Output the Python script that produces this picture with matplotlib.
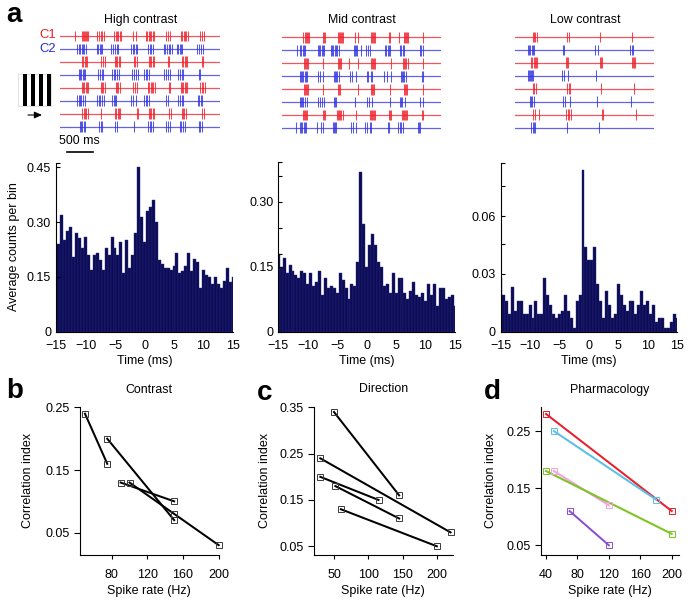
import matplotlib
matplotlib.use("Agg")
import matplotlib.pyplot as plt
from matplotlib.patches import Rectangle
from matplotlib.ticker import FuncFormatter

plt.rcParams["font.family"] = ["Liberation Sans", "DejaVu Sans"]
plt.rcParams["axes.linewidth"] = 0.8
plt.rcParams["axes.unicode_minus"] = True

W, H = 691, 607
DPI = 100

# spike times, raster time units (77 units = 500 ms)
high_rows = [
    [226, 245, 248, 251, 254, 257, 260, 263, 292, 297, 303, 307, 312, 343, 347, 351, 355, 359, 363, 398, 408, 437, 442, 446, 450, 454, 458, 462, 499, 505, 511, 543, 547, 551, 555, 559, 563, 600, 606, 612],
    [232, 237, 241, 245, 249, 253, 257, 290, 295, 299, 303, 307, 334, 339, 345, 350, 355, 394, 398, 403, 407, 411, 445, 449, 453, 458, 491, 496, 501, 506, 511, 516, 530, 535, 539, 543, 547, 592, 598, 604, 610],
    [246, 250, 254, 258, 262, 303, 309, 316, 344, 348, 352, 356, 360, 401, 405, 410, 446, 450, 454, 458, 462, 505, 508, 546, 550, 554, 558, 562, 607, 610],
    [236, 240, 244, 248, 252, 256, 295, 300, 305, 310, 336, 341, 346, 351, 356, 397, 402, 407, 413, 431, 437, 442, 447, 491, 497, 503, 510, 535, 540, 545, 550, 596, 600],
    [245, 249, 253, 257, 261, 265, 302, 306, 310, 315, 347, 351, 355, 359, 400, 405, 410, 444, 448, 452, 456, 460, 464, 507, 510, 542, 546, 550, 554, 558, 562, 600, 605, 610, 615],
    [232, 236, 240, 244, 248, 254, 291, 296, 301, 306, 312, 337, 341, 345, 349, 393, 398, 408, 432, 437, 442, 447, 497, 503, 535, 540, 545, 550, 593, 598, 603, 607],
    [247, 251, 255, 259, 263, 304, 345, 349, 353, 357, 361, 410, 414, 446, 450, 454, 458, 462, 508, 512, 545, 549, 553, 557, 607, 611],
    [239, 243, 247, 251, 255, 298, 302, 306, 345, 350, 402, 444, 449, 454, 459, 497, 503, 509, 539, 544, 549, 554, 596, 601, 607],
]
mid_rows = [
    [188, 194, 197, 200, 203, 206, 248, 251, 254, 293, 296, 299, 302, 305, 308, 344, 353, 392, 395, 398, 401, 404, 447, 451, 476, 492, 495, 498, 501, 505, 548],
    [172, 180, 184, 188, 192, 196, 233, 237, 241, 245, 249, 253, 272, 276, 280, 284, 288, 292, 296, 341, 344, 347, 351, 362, 379, 384, 389, 435, 439, 443, 447, 451, 480, 484, 488, 492, 540, 544, 548],
    [192, 195, 198, 201, 204, 250, 295, 298, 301, 304, 328, 355, 394, 397, 400, 403, 406, 452, 490, 493, 496, 499, 503, 548],
    [181, 184, 187, 190, 194, 198, 202, 233, 240, 249, 281, 284, 287, 290, 297, 331, 337, 347, 381, 385, 392, 397, 433, 441, 453, 482, 485, 488, 492, 499, 546, 549],
    [192, 195, 198, 201, 204, 250, 294, 297, 300, 353, 392, 395, 398, 401, 451, 491, 494, 497, 500, 550],
    [181, 184, 187, 190, 196, 202, 235, 241, 246, 251, 282, 285, 288, 346, 382, 388, 395, 449, 481, 484, 487, 494, 541, 549],
    [189, 192, 195, 198, 201, 248, 251, 254, 290, 293, 296, 299, 304, 309, 349, 389, 392, 395, 398, 401, 404, 447, 450, 454, 487, 490, 493, 496, 499, 502, 546, 549],
    [167, 179, 183, 187, 191, 195, 199, 232, 243, 248, 278, 281, 284, 287, 332, 339, 347, 376, 380, 389, 394, 444, 448, 474, 479, 484, 490, 534, 537, 540],
]
low_rows = [
    [218, 222, 226, 230, 322, 326, 419, 517],
    [203, 207, 211, 215, 219, 223, 308, 312, 404, 414, 511, 515, 519],
    [212, 216, 222, 225, 228, 231, 319, 322, 325, 419, 423, 427, 515, 519, 523, 526],
    [203, 206, 209, 212, 215, 218, 306, 311, 325, 408],
    [218, 222, 228, 322, 326, 330, 424, 523],
    [209, 213, 217, 221, 308, 315, 331, 411, 512],
    [220, 224, 236, 319, 323, 327, 334, 425, 428, 527],
    [214, 218, 222, 226, 320, 418],
]

# cross-correlograms, 61 bins of 0.5 ms
lags = [-15 + 0.5 * i for i in range(61)]
high_counts = [.20, .24, .32, .25, .275, .285, .205, .27, .255, .23, .26, .21, .17, .21, .215, .195, .17, .23, .21, .26,
               .23, .21, .245, .16, .25, .175, .21, .27, .45, .315, .245, .33, .34, .36, .30, .195, .185, .175, .175, .17,
               .18, .215, .16, .165, .18, .215, .165, .20, .19, .12, .17, .155, .15, .13, .15, .13, .12, .14, .175, .135, .15]
mid_counts = [.18, .15, .17, .135, .155, .14, .13, .125, .14, .135, .11, .135, .105, .115, .14, .085, .125, .10, .105, .10,
              .09, .135, .12, .10, .075, .11, .105, .16, .37, .25, .15, .20, .225, .20, .16, .15, .105, .11, .09, .135,
              .09, .125, .125, .09, .075, .095, .115, .085, .08, .09, .07, .11, .085, .11, .06, .10, .10, .075, .08, .085, .06]
low_counts = [.028, .019, .016, .009, .023, .011, .016, .016, .009, .009, .014, .007, .016, .009, .009, .028, .019, .014, .009, .007,
              .009, .011, .019, .011, .007, .002, .016, .019, .084, .044, .037, .037, .044, .025, .016, .007, .021, .014, .007, .009,
              .025, .019, .014, .011, .016, .016, .009, .014, .021, .014, .016, .009, .014, .005, .007, .007, .002, .002, .005, .009, .007]
lag_ticks = [-15, -10, -5, 0, 5, 10, 15]

# correlation index vs spike rate, one list per pair
contrast_x = [[50, 75], [75, 150], [90, 150], [100, 150, 200]]
contrast_y = [[.24, .16], [.20, .07], [.13, .10], [.13, .08, .03]]
direction_x = [[50, 145], [30, 220], [30, 115], [52, 145], [60, 200]]
direction_y = [[.34, .16], [.24, .08], [.20, .15], [.18, .11], [.13, .05]]
pharma_x = [[50, 120], [40, 200], [50, 180], [40, 200], [70, 120]]
pharma_y = [[.18, .12], [.28, .11], [.25, .13], [.18, .07], [.11, .05]]
pharma_colors = ["#f3a0e6", "#e81f2d", "#5cbfe6", "#7cc41e", "#8a50d2"]


def px_axes(fig, left, top, right, bottom):
    return fig.add_axes([left / W, 1 - bottom / H, (right - left) / W, (bottom - top) / H])


def fmt_tick(x, pos):
    if x == 0:
        return "0"
    return "{:.2f}".format(x)


fig = plt.figure(figsize=(W / DPI, H / DPI), dpi=DPI)

# overlay in pixel coordinates for labels
ov = fig.add_axes([0, 0, 1, 1], zorder=5)
ov.set_xlim(0, W)
ov.set_ylim(H, 0)
ov.axis("off")


def label(x, y, s, size=8.9, **kw):
    ov.text(x, y, s, fontsize=size, ha=kw.pop("ha", "center"), va="center", **kw)


# rasters
raster_boxes = [(high_rows, 60, 220, 180, 660, 24.4), (mid_rows, 282.3, 441, 127, 603, 25.7), (low_rows, 515, 654, 165, 582, 25.4)]
for rows, left, right, t0, t1, top in raster_boxes:
    ax = px_axes(fig, left, top, right, top + 110)
    ax.set_xlim(t0, t1)
    ax.set_ylim(7.6, -0.9)
    ax.axis("off")
    for i, spikes in enumerate(rows):
        c = "#f01c28" if i % 2 == 0 else "#2f2fe0"
        ax.plot([t0, t1], [i, i], color=c, lw=0.9, alpha=0.75)
        ax.vlines(spikes, i - 0.42, i + 0.42, color=c, lw=0.75, alpha=0.8)

label(141, 20, "High contrast")
label(362, 20, "Mid contrast")
label(585, 20, "Low contrast")
label(48, 34.5, "C1", size=9.4, color="#e8202a")
label(48, 49, "C2", size=9.4, color="#2b2bd8")

# grating icon and arrow
ov.add_patch(Rectangle((18.5, 74), 32.5, 32, fc="white", ec="#cccccc", lw=0.4))
for bx in [22.7, 30.7, 38.7, 46.7]:
    ov.add_patch(Rectangle((bx, 74), 4, 32, fc="black", ec="none"))
ov.annotate("", xy=(42, 115), xytext=(28, 115),
            arrowprops=dict(arrowstyle="-|>,head_width=0.2,head_length=0.45", color="black", lw=0.8,
                            shrinkA=0, shrinkB=0))
label(79, 141, "500 ms")
ov.plot([66.7, 92.7], [151.7, 151.7], color="black", lw=1.2)

# histograms
hist_boxes = [
    (high_counts, 56, 233, 163.5, 0.46, [0, .15, .30, .45], [.46]),
    (mid_counts, 278.3, 455, 162.5, 0.391, [0, .15, .30], [.18, .24, .36, .391]),
    (low_counts, 500.7, 677, 162.7, 0.0877, [0, .03, .06], [.0453, .0756, .0877]),
]
for counts, left, right, top, ymax, yt, ym in hist_boxes:
    ax = px_axes(fig, left, top, right, 331.7)
    ax.bar(lags, counts, width=0.5, color="#0b0b58", edgecolor="#2c2c78", lw=0.3)
    ax.set_xlim(-15, 15)
    ax.set_ylim(0, ymax)
    ax.set_xticks(lag_ticks)
    ax.set_yticks(yt)
    ax.set_yticks(ym, minor=True)
    ax.yaxis.set_major_formatter(FuncFormatter(fmt_tick))
    ax.tick_params(axis="x", length=0, pad=6, labelsize=9)
    ax.tick_params(axis="y", which="major", direction="in", length=3, width=0.8, pad=3.5, labelsize=9)
    ax.tick_params(axis="y", which="minor", direction="in", length=3, width=0.8)
    ax.spines["top"].set_visible(False)
    ax.spines["right"].set_visible(False)
    ov.text((left + right) / 2, 361, "Time (ms)", fontsize=9, ha="center", va="center")

ov.text(14, 247, "Average counts per bin", fontsize=9, rotation=90, ha="center", va="center")


def scatter_panel(left, right, xlim, ylim, xt, yt, xs, ys, colors, title_x, ylab_x):
    ax = px_axes(fig, left, 407.4, right, 555.3)
    for i in range(len(xs)):
        ax.plot(xs[i], ys[i], color=colors[i], lw=1.45, zorder=2, clip_on=False)
        ax.plot(xs[i], ys[i], ls="none", marker="s", ms=4.3, mfc="none",
                mec=colors[i] if len(set(colors)) > 1 else "#3a3a3a", mew=0.7, zorder=3, clip_on=False)
    ax.set_xlim(*xlim)
    ax.set_ylim(*ylim)
    ax.set_xticks(xt)
    ax.set_yticks(yt)
    ax.yaxis.set_major_formatter(FuncFormatter(fmt_tick))
    ax.tick_params(axis="x", length=3, width=0.8, pad=7, labelsize=9)
    ax.tick_params(axis="y", length=4.2, width=0.8, pad=3, labelsize=9)
    ax.spines["top"].set_visible(False)
    ax.spines["right"].set_visible(False)
    ov.text(title_x, 591, "Spike rate (Hz)", fontsize=9, ha="center", va="center")
    ov.text(ylab_x, 481, "Correlation index", fontsize=9, rotation=90, ha="center", va="center")
    return ax


scatter_panel(79.7, 218.7, (44.1, 200), (.0138, .25), [80, 120, 160, 200], [.05, .15, .25],
              contrast_x, contrast_y, ["black"] * 4, 149, 28)
scatter_panel(314, 453.3, (20.8, 224), (.0305, .35), [50, 100, 150, 200], [.05, .15, .25, .35],
              direction_x, direction_y, ["black"] * 5, 383, 265)
scatter_panel(540.7, 679.3, (33.2, 209.6), (.0325, .2915), [40, 80, 120, 160, 200], [.05, .15, .25],
              pharma_x, pharma_y, pharma_colors, 610, 491)

label(149, 390, "Contrast")
label(384, 389, "Direction")
label(610, 390, "Pharmacology")

# panel letters
for lx, ly, s in [(14, 15, "a"), (15, 391, "b"), (265, 393, "c"), (492, 392, "d")]:
    ov.text(lx, ly, s, fontsize=20, fontweight="bold", ha="center", va="center")

fig.savefig("out.png", dpi=DPI)
